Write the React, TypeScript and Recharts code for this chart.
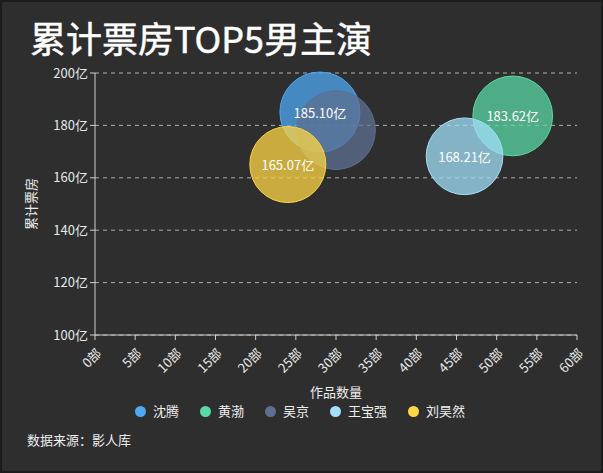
import React from 'react';
import {
  ScatterChart,
  Scatter,
  XAxis,
  YAxis,
  ZAxis,
  CartesianGrid,
  Legend,
} from 'recharts';

const people = ['沈腾', '黄渤', '吴京', '王宝强', '刘昊然'];
const works = [28, 52, 30, 46, 24];
const boxOffice = [185.1, 183.62, 178.2, 168.21, 165.07];
const hiddenLabels = ['吴京'];
const colors = ['#4ea8f2', '#5ad8a6', '#5d7092', '#a3e0fa', '#fdd645'];
const xTicks = [0, 5, 10, 15, 20, 25, 30, 35, 40, 45, 50, 55, 60];
const yTicks = [100, 120, 140, 160, 180, 200];

const FONT = '"Noto Sans CJK SC", "Noto Sans", sans-serif';

const series = people.map((name, i) => ({
  name,
  color: colors[i],
  data: [{ x: works[i], y: boxOffice[i], z: boxOffice[i] }],
}));

const labelData = people
  .map((name, i) => ({ name, x: works[i], y: boxOffice[i], z: boxOffice[i], label: `${boxOffice[i].toFixed(2)}亿` }))
  .filter((d) => !hiddenLabels.includes(d.name));

function XTick(props: any) {
  const { x, y, payload } = props;
  return (
    <g transform={`translate(${x + 4},${y + 9})`}>
      <text
        textAnchor="end"
        transform="rotate(-45)"
        dy="0.35em"
        fill="#e8e8e8"
        fontSize={13}
        fontFamily={FONT}
      >
        {`${payload.value}部`}
      </text>
    </g>
  );
}

function BubbleLabel(props: any) {
  const { cx, cy, payload } = props;
  return (
    <text
      x={cx}
      y={cy}
      textAnchor="middle"
      dominantBaseline="central"
      fill="#ffffff"
      fontSize={13}
      fontFamily={FONT}
    >
      {payload.label}
    </text>
  );
}

export default function App() {
  return (
    <div
      style={{
        position: 'absolute',
        left: 0,
        top: 0,
        width: 603,
        height: 473,
        boxSizing: 'border-box',
        border: '2px solid #1c1c1c',
        background: '#2e2e2e',
        fontFamily: FONT,
        overflow: 'hidden',
      }}
    >
      <div
        style={{
          position: 'absolute',
          left: 28,
          top: 17,
          color: '#ffffff',
          fontSize: 36,
          fontWeight: 400,
          lineHeight: '36px',
          whiteSpace: 'nowrap',
          WebkitTextStroke: '0.5px #ffffff',
        }}
      >
        累计票房TOP5男主演
      </div>
      <div
        style={{
          position: 'absolute',
          left: 25,
          top: 428,
          color: '#eeeeee',
          fontSize: 13,
          lineHeight: '20px',
        }}
      >
        数据来源：影人库
      </div>
      <div style={{ position: 'absolute', left: -2, top: -2 }}>
        <ScatterChart width={603} height={473} margin={{ top: 73, right: 26, left: 0, bottom: 52 }}>
          <CartesianGrid stroke="#b0b0b0" strokeDasharray="4 4" vertical={false} />
          <XAxis
            type="number"
            dataKey="x"
            domain={[0, 60]}
            ticks={xTicks}
            interval={0}
            tick={<XTick />}
            stroke="#cfcfcf"
            tickSize={5}
            height={62}
            label={{ value: '作品数量', position: 'insideBottom', offset: 0, fill: '#eeeeee', fontSize: 13, fontFamily: FONT }}
          />
          <YAxis
            type="number"
            dataKey="y"
            domain={[100, 200]}
            ticks={yTicks}
            interval={0}
            width={95}
            stroke="#cfcfcf"
            tickSize={5}
            tick={{ fill: '#e8e8e8', fontSize: 13, fontFamily: FONT }}
            tickFormatter={(v) => `${v}亿`}
            label={{
              value: '累计票房',
              angle: -90,
              position: 'insideLeft',
              offset: 31,
              fill: '#eeeeee',
              stroke: 'none',
              fontSize: 13,
              fontFamily: FONT,
              style: { textAnchor: 'middle', fill: '#eeeeee' },
            }}
          />
          <ZAxis type="number" dataKey="z" domain={[100, 200]} range={[2940, 5400]} />
          <Legend
            verticalAlign="bottom"
            align="center"
            iconType="circle"
            iconSize={11}
            wrapperStyle={{ left: 135, width: 'auto' }}
            itemSorter={(item: any) => people.indexOf(item.value)}
            formatter={(value) => (
              <span style={{ color: '#eeeeee', fontSize: 13, marginLeft: 3, marginRight: 11, fontFamily: FONT }}>
                {value}
              </span>
            )}
          />
          {series.map((s) => (
            <Scatter
              key={s.name}
              name={s.name}
              data={s.data}
              fill={s.color}
              fillOpacity={0.75}
              stroke={s.color}
              strokeWidth={1}
              isAnimationActive={false}
            />
          ))}
          <Scatter
            name="labels"
            data={labelData}
            legendType="none"
            shape={<BubbleLabel />}
            isAnimationActive={false}
          />
        </ScatterChart>
      </div>
    </div>
  );
}
